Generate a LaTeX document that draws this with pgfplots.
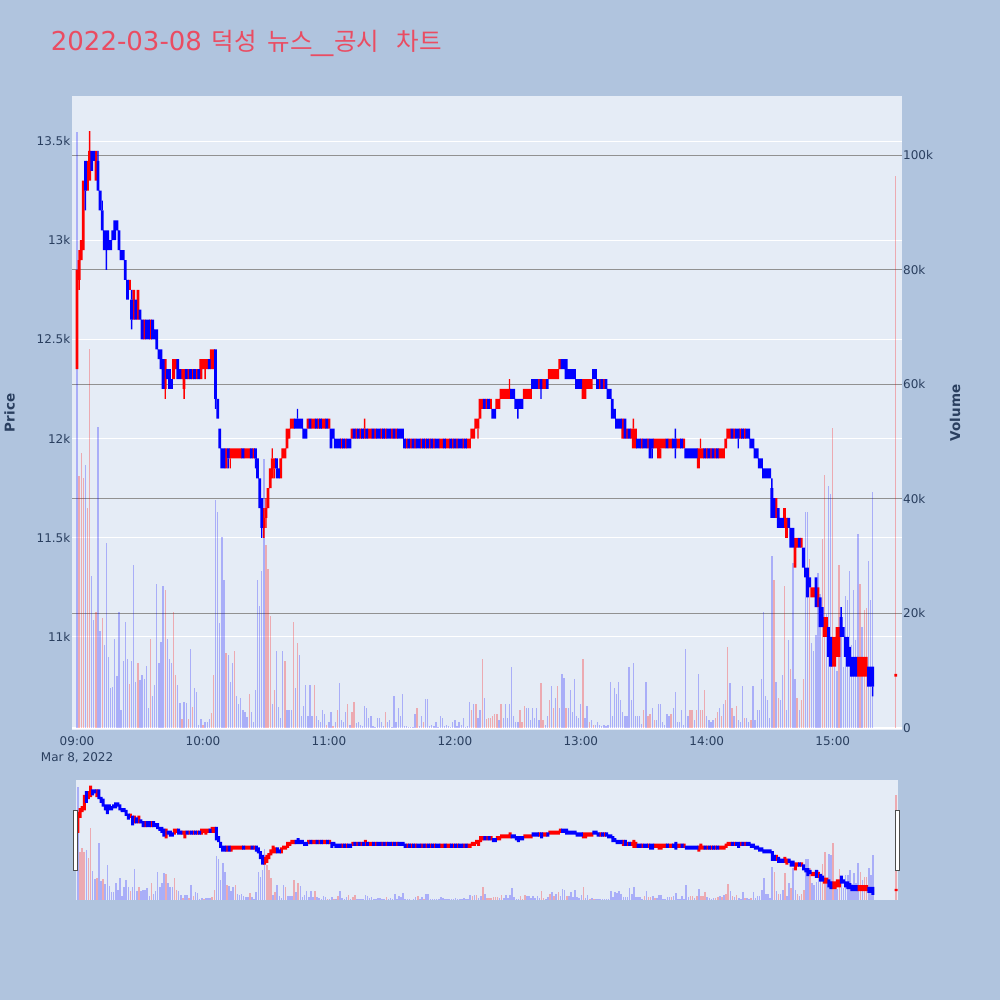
\documentclass[border=0pt]{standalone}
\usepackage{fontspec}
\setmainfont{DejaVu Sans}
\newfontfamily\kr{Noto Sans CJK KR}
\usepackage{graphicx}
\usepackage{pgfplots}
\usepackage{pgfplotstable}
\pgfplotsset{compat=1.18}
\definecolor{pagebg}{RGB}{176,196,222}
\definecolor{plotbg}{RGB}{229,236,246}
\definecolor{txt}{RGB}{42,63,95}
\definecolor{ttl}{RGB}{234,76,98}
\definecolor{cred}{RGB}{255,0,0}
\definecolor{cblue}{RGB}{0,0,255}
\definecolor{vgrid}{RGB}{145,145,145}

\pgfplotstableread{
t o h l c v vc
0 12350 12850 12350 12850 104000 0
1 12800 12950 12750 12900 44000 1
2 12900 13000 12900 13000 48000 1
3 12950 13300 12950 13300 43700 1
4 13400 13400 13150 13250 45900 0
5 13250 13400 13250 13400 38400 1
6 13300 13550 13300 13450 66100 1
7 13450 13450 13350 13350 26600 0
8 13450 13450 13400 13400 18800 0
9 13300 13450 13300 13450 20200 1
10 13400 13450 13250 13250 52600 0
11 13250 13250 13150 13150 16900 0
12 13150 13200 13050 13050 19200 1
13 13050 13050 12950 12950 14500 0
14 13050 13050 12850 12950 32300 0
15 13000 13050 12950 12950 12400 0
16 13000 13000 12950 12950 7000 0
17 13050 13050 13000 13000 7200 0
18 13100 13100 13000 13000 15500 0
19 13100 13100 13050 13050 9100 0
20 13050 13050 12950 12950 20200 0
21 12950 12950 12900 12900 3100 0
22 12950 12950 12900 12900 11700 0
23 12900 12900 12800 12800 18500 0
24 12800 12800 12700 12700 12000 0
25 12750 12800 12750 12800 7600 1
26 12700 12750 12550 12600 11700 0
27 12600 12750 12600 12750 28400 0
28 12700 12700 12600 12600 8000 0
29 12600 12750 12600 12750 11300 1
30 12650 12650 12600 12600 8300 0
31 12600 12600 12500 12500 9300 0
32 12500 12600 12500 12600 8600 0
33 12600 12600 12500 12500 10800 0
34 12600 12600 12500 12500 3500 0
35 12500 12600 12500 12600 15500 1
36 12600 12600 12500 12500 5500 0
37 12550 12550 12500 12500 7500 0
38 12550 12550 12450 12450 25100 0
39 12450 12450 12400 12400 11300 0
40 12450 12450 12350 12350 15000 0
41 12400 12400 12250 12250 24800 0
42 12250 12400 12200 12400 24000 1
43 12350 12350 12300 12300 15500 0
44 12350 12350 12250 12250 12000 0
45 12300 12300 12250 12250 11300 0
46 12300 12400 12300 12400 20200 1
47 12350 12400 12350 12400 9300 1
48 12400 12400 12300 12300 7500 0
49 12350 12350 12300 12300 4300 0
50 12300 12350 12300 12350 1500 1
51 12250 12350 12200 12350 4600 0
52 12350 12350 12300 12300 4300 0
53 12300 12350 12300 12350 1500 1
54 12350 12350 12300 12300 13800 0
55 12300 12350 12300 12350 3600 1
56 12350 12350 12300 12300 7000 0
57 12300 12350 12300 12350 6300 0
58 12350 12350 12300 12300 500 0
59 12300 12400 12300 12400 1600 0
60 12350 12400 12350 12400 500 1
61 12350 12400 12300 12400 1100 0
62 12350 12400 12350 12400 1100 0
63 12400 12400 12350 12350 1600 0
64 12350 12450 12350 12450 2700 1
65 12400 12450 12350 12450 9200 1
66 12450 12450 12150 12200 39800 0
67 12200 12200 12100 12100 37700 0
68 12050 12050 11950 11950 18400 0
69 11950 11950 11850 11850 33400 0
70 11950 11950 11850 11850 25900 0
71 11850 11950 11850 11950 13100 1
72 11950 11950 11850 11900 12750 0
73 11900 11950 11850 11950 8100 0
74 11900 11950 11900 11950 11300 0
75 11900 11950 11900 11950 13500 1
76 11900 11950 11900 11950 5600 0
77 11900 11950 11900 11950 4200 0
78 11900 11950 11900 11950 5300 0
79 11950 11950 11900 11900 3100 0
80 11900 11950 11900 11950 2800 0
81 11900 11950 11900 11950 2000 0
82 11900 11950 11900 11950 6000 1
83 11950 11950 11900 11900 2800 0
84 11900 11950 11900 11950 1000 0
85 11950 11950 11850 11900 6700 0
86 11900 11900 11800 11800 25900 0
87 11800 11800 11650 11650 21300 0
88 11700 11700 11500 11550 27400 0
89 11550 11650 11500 11600 46900 0
90 11600 11700 11550 11650 32000 1
91 11650 11750 11650 11750 27700 1
92 11750 11850 11750 11850 19500 1
93 11800 11950 11800 11900 4200 0
94 11850 11900 11800 11900 6700 1
95 11900 11900 11800 11850 13500 0
96 11850 11850 11800 11800 3700 0
97 11800 11900 11800 11900 1800 0
98 11900 11950 11900 11950 13500 0
99 11900 11950 11900 11950 11700 1
100 11950 12050 11950 12050 3200 0
101 12000 12050 12000 12050 3200 0
102 12050 12100 12050 12100 3200 0
103 12050 12100 12050 12100 18500 1
104 12100 12100 12050 12050 7000 0
105 12100 12150 12050 12050 14900 1
106 12100 12100 12050 12050 12750 0
107 12100 12100 12050 12050 2100 0
108 12050 12050 12000 12000 3900 0
109 12050 12050 12000 12000 7500 0
110 12050 12100 12050 12100 2100 0
111 12100 12100 12050 12050 7500 0
112 12050 12100 12050 12100 2100 0
113 12050 12100 12050 12100 7500 1
114 12100 12100 12050 12050 2100 0
115 12050 12100 12050 12100 1400 0
116 12100 12100 12050 12050 1000 0
117 12050 12100 12050 12100 3100 0
118 12050 12100 12050 12100 2400 0
119 12100 12100 12050 12050 600 1
120 12050 12100 12050 12100 1000 0
121 12050 12050 11950 11950 2800 0
122 12050 12050 12000 12000 300 1
123 12000 12000 11950 11950 1000 0
124 12000 12000 11950 11950 3100 1
125 12000 12000 11950 11950 7800 0
126 11950 12000 11950 12000 1400 0
127 12000 12000 11950 11950 1000 0
128 11950 12000 11950 12000 2800 0
129 12000 12000 11950 11950 4200 1
130 12000 12000 11950 11950 600 0
131 12000 12050 12000 12050 2800 1
132 12050 12050 12000 12000 4600 1
133 12000 12050 12000 12050 800 0
134 12050 12050 12000 12000 1000 0
135 12000 12050 12000 12050 600 0
136 12050 12050 12000 12000 400 0
137 12000 12100 12000 12050 3900 0
138 12050 12050 12000 12000 3500 0
139 12000 12050 12000 12050 1800 0
140 12000 12050 12000 12050 2100 0
141 12050 12050 12000 12000 300 0
142 12000 12050 12000 12050 200 0
143 12050 12050 12000 12000 1800 0
144 12050 12050 12000 12000 1800 0
145 12000 12050 12000 12050 1000 0
146 12050 12050 12000 12000 300 0
147 12000 12050 12000 12050 2800 1
148 12050 12050 12000 12000 1000 0
149 12050 12050 12000 12000 1400 0
150 12000 12050 12000 12050 200 0
151 12050 12050 12000 12000 5600 0
152 12000 12050 12000 12050 1000 0
153 12050 12050 12000 12000 3500 0
154 12050 12050 12000 12000 2100 0
155 12050 12050 12000 12000 6000 0
156 12000 12000 11950 11950 400 0
157 11950 12000 11950 12000 400 0
158 12000 12000 11950 11950 200 0
159 11950 12000 11950 12000 100 0
160 12000 12000 11950 11950 200 0
161 11950 12000 11950 12000 2400 0
162 12000 12000 11950 11950 3500 1
163 12000 12000 11950 11950 300 0
164 11950 12000 11950 12000 2100 0
165 12000 12000 11950 11950 1000 1
166 11950 12000 11950 12000 5100 0
167 12000 12000 11950 11950 5100 0
168 11950 12000 11950 12000 300 0
169 12000 12000 11950 11950 600 0
170 11950 12000 11950 12000 300 0
171 12000 12000 11950 11950 1000 0
172 12000 12000 11950 11950 200 0
173 11950 12000 11950 12000 2100 0
174 11950 12000 11950 12000 1800 0
175 12000 12000 11950 11950 300 0
176 11950 12000 11950 12000 600 0
177 11950 12000 11950 12000 400 0
178 12000 12000 11950 11950 200 0
179 11950 12000 11950 12000 1000 0
180 12000 12000 11950 11950 1400 0
181 11950 12000 11950 12000 300 0
182 12000 12000 11950 11950 1000 0
183 12000 12000 11950 11950 600 0
184 11950 12000 11950 12000 1800 0
185 12000 12000 11950 11950 200 0
186 11950 12000 11950 12000 400 0
187 11950 12000 11950 12000 4600 0
188 12000 12050 12000 12050 3200 1
189 12000 12050 12000 12050 4200 0
190 12050 12100 12050 12100 4200 1
191 12050 12100 12000 12100 1800 0
192 12100 12200 12100 12200 3200 0
193 12150 12200 12150 12200 12000 1
194 12200 12200 12150 12150 5300 0
195 12150 12200 12150 12200 1500 1
196 12200 12200 12150 12150 1800 1
197 12150 12200 12150 12200 1800 1
198 12150 12150 12100 12100 2100 1
199 12150 12150 12100 12100 2500 1
200 12150 12200 12150 12200 2500 1
201 12150 12200 12150 12200 1400 0
202 12200 12250 12200 12250 4200 1
203 12200 12250 12200 12250 1800 0
204 12200 12250 12200 12250 4200 0
205 12200 12250 12200 12250 1800 0
206 12200 12300 12200 12250 4200 0
207 12250 12250 12200 12200 10600 0
208 12250 12250 12200 12200 2100 0
209 12200 12200 12150 12150 1000 0
210 12200 12200 12100 12150 1000 0
211 12200 12200 12150 12150 3200 1
212 12200 12200 12150 12150 1000 1
213 12200 12250 12200 12250 3900 1
214 12200 12250 12200 12250 3500 0
215 12200 12250 12200 12250 3500 0
216 12200 12250 12200 12250 1400 0
217 12300 12300 12250 12250 3500 0
218 12300 12300 12250 12250 1800 0
219 12300 12300 12250 12250 3500 0
220 12250 12300 12250 12300 1400 0
221 12300 12300 12200 12250 7800 1
222 12250 12300 12250 12300 1400 1
223 12250 12300 12250 12300 600 0
224 12300 12300 12250 12250 2100 0
225 12300 12350 12300 12350 4900 1
226 12300 12350 12300 12350 7400 0
227 12300 12350 12300 12350 3500 1
228 12300 12350 12300 12350 5300 0
229 12300 12350 12300 12350 7400 1
230 12350 12400 12350 12400 3500 0
231 12400 12400 12350 12350 9500 0
232 12400 12400 12350 12350 8800 0
233 12400 12400 12300 12300 3500 1
234 12350 12350 12300 12300 3500 0
235 12350 12350 12300 12300 6700 0
236 12350 12350 12300 12300 2800 0
237 12350 12350 12300 12300 8500 0
238 12300 12300 12250 12250 2100 0
239 12300 12300 12250 12250 1800 0
240 12300 12300 12250 12250 4200 0
241 12200 12300 12200 12300 12000 1
242 12200 12300 12200 12300 1800 0
243 12250 12300 12250 12300 3900 0
244 12250 12300 12250 12300 1000 1
245 12250 12300 12250 12300 1400 0
246 12350 12350 12300 12300 600 1
247 12350 12350 12300 12300 600 0
248 12300 12300 12250 12250 1000 0
249 12250 12300 12250 12300 600 0
250 12300 12300 12250 12250 300 0
251 12250 12300 12250 12300 600 0
252 12300 12300 12250 12250 300 0
253 12250 12250 12200 12200 600 0
254 12250 12250 12200 12200 8100 0
255 12200 12200 12100 12100 2100 0
256 12150 12150 12100 12100 7000 0
257 12100 12100 12050 12050 6000 0
258 12100 12100 12050 12050 8100 0
259 12100 12100 12050 12050 4900 0
260 12000 12100 12000 12100 2800 0
261 12100 12100 12000 12000 2100 0
262 12000 12050 12000 12050 2100 0
263 12050 12050 12000 12000 10600 0
264 12000 12050 12000 12050 4900 0
265 11950 12100 11950 12050 11300 0
266 11950 12050 11950 12050 2100 0
267 12000 12000 11950 11950 2100 0
268 12000 12000 11950 11950 2100 0
269 11950 12000 11950 12000 700 0
270 12000 12000 11950 11950 3200 1
271 12000 12000 11950 11950 8100 0
272 11950 12000 11950 12000 2100 1
273 12000 12000 11900 11900 2500 1
274 12000 12000 11900 11950 3500 0
275 11950 12000 11950 12000 1400 1
276 11950 12000 11950 12000 1400 0
277 11900 12000 11900 12000 4200 0
278 11950 12000 11900 12000 4200 0
279 11950 12000 11950 12000 1000 0
280 11950 12000 11950 12000 600 0
281 12000 12000 11950 11950 2500 0
282 11950 12000 11950 12000 2100 0
283 11950 12000 11950 12000 2500 1
284 12000 12000 11950 11950 3500 0
285 12000 12050 11900 11950 6300 0
286 11950 12000 11950 12000 1000 0
287 11950 12000 11950 12000 1000 0
288 12000 12000 11950 11950 3200 0
289 11950 12000 11950 12000 600 0
290 11950 11950 11900 11900 13800 0
291 11950 11950 11900 11900 2100 0
292 11950 11950 11900 11900 3200 1
293 11950 11950 11900 11900 3200 1
294 11950 11950 11900 11900 1400 0
295 11950 11950 11900 11900 3200 1
296 11850 11950 11850 11950 9500 0
297 11900 12000 11900 11950 3200 1
298 11900 11950 11900 11950 3200 1
299 11950 11950 11900 11900 6700 1
300 11900 11950 11900 11950 2100 0
301 11950 11950 11900 11900 1400 0
302 11900 11950 11900 11950 1000 0
303 11950 11950 11900 11900 1400 0
304 11900 11950 11900 11950 1800 1
305 11950 11950 11900 11900 2800 1
306 11900 11950 11900 11950 3500 0
307 11900 11950 11900 11950 2100 1
308 11900 11950 11900 11950 4200 0
309 11950 12000 11950 12000 4900 1
310 12000 12050 12000 12050 14200 1
311 12000 12050 12000 12050 7800 0
312 12050 12050 12000 12000 3500 1
313 12000 12050 12000 12050 2100 0
314 12050 12050 12000 12000 3900 1
315 12050 12050 11950 12000 1400 0
316 12000 12050 12000 12050 1000 0
317 12050 12050 12000 12000 7400 0
318 12000 12050 12000 12050 1800 1
319 12050 12050 12000 12000 1800 0
320 12050 12050 12000 12000 1000 0
321 12000 12000 11950 11950 1400 1
322 12000 12000 11950 11950 7400 0
323 11950 11950 11900 11900 1400 0
324 11950 11950 11900 11900 3200 0
325 11900 11900 11850 11850 3200 0
326 11900 11900 11850 11850 8500 0
327 11850 11850 11800 11800 20200 0
328 11850 11850 11800 11800 5600 0
329 11850 11850 11800 11800 4900 0
330 11850 11850 11800 11800 1800 0
331 11750 11800 11600 11600 30000 0
332 11700 11700 11600 11600 25900 1
333 11600 11700 11600 11700 8100 0
334 11650 11650 11550 11550 5300 1
335 11600 11600 11550 11550 4900 0
336 11600 11600 11550 11550 9200 0
337 11550 11650 11550 11650 24800 1
338 11500 11600 11500 11600 3200 0
339 11600 11600 11550 11550 15300 0
340 11550 11550 11450 11450 10300 1
341 11550 11550 11450 11450 28800 0
342 11350 11500 11350 11500 8500 0
343 11450 11500 11450 11500 5300 1
344 11500 11500 11450 11450 3200 0
345 11450 11500 11450 11500 4900 1
346 11450 11450 11350 11350 8500 1
347 11350 11350 11300 11300 37700 0
348 11350 11350 11200 11200 37700 0
349 11300 11300 11250 11250 29500 1
350 11200 11250 11200 11250 14900 0
351 11200 11250 11200 11250 13500 0
352 11300 11300 11150 11150 16300 0
353 11150 11250 11150 11250 27000 0
354 11200 11200 11050 11050 23400 0
355 11150 11150 11050 11050 33000 1
356 11000 11100 11000 11100 44100 1
357 11000 11100 11000 11100 19900 0
358 11050 11050 10900 10900 42300 0
359 11000 11000 10850 10850 40900 0
360 10850 11000 10850 11000 52300 1
361 10850 11000 10850 11000 14900 0
362 10900 11050 10900 11050 9900 0
363 10900 11050 10900 11050 28400 1
364 11100 11150 11000 11000 16300 0
365 11050 11050 11000 11000 10600 0
366 11000 11000 10900 10900 23100 0
367 11000 11000 10850 10850 22400 0
368 10950 10950 10850 10850 27400 0
369 10900 10900 10800 10800 14500 0
370 10900 10900 10800 10800 24100 0
371 10900 10900 10800 10800 15400 0
372 10800 10900 10800 10900 33800 0
373 10800 10900 10800 10900 25200 1
374 10800 10900 10800 10900 17700 0
375 10800 10900 10800 10900 20600 1
376 10800 10900 10800 10900 20900 1
377 10850 10850 10750 10750 29100 0
378 10850 10850 10750 10750 22400 0
379 10850 10850 10700 10750 41200 0
390 10800 10800 10800 10800 96400 1
}\data

\pgfplotsset{
  lay/.style={scale only axis, anchor=south west, clip=true, scaled ticks=false,
    axis line style={draw=none}, major tick style={draw=none}, minor tick style={draw=none}},
  mainpos/.style={lay, at={(72pt,270pt)}, width=830pt, height=634pt, xmin=-2.4, xmax=393},
  slidepos/.style={lay, at={(76pt,100pt)}, width=822pt, height=120pt, xmin=-0.95, xmax=390.95},
  pricey/.style={ymin=10531, ymax=13727},
  voly/.style={ymin=-349, ymax=110300},
  redsel/.style={restrict expr to domain={\thisrow{c}-\thisrow{o}}{0:100000}},
  bluesel/.style={restrict expr to domain={\thisrow{c}-\thisrow{o}}{-100000:-1}},
  vred/.style={restrict expr to domain={\thisrow{vc}}{0.5:1.5}},
  vblue/.style={restrict expr to domain={\thisrow{vc}}{-0.5:0.5}},
}
% main candles of one colour, as stacked bars: #1 selector, #2 colour
\newcommand{\maincandles}[2]{%
\begin{axis}[mainpos, pricey, hide axis, ybar stacked]
  \addplot[draw=none, fill=none, #1, bar width=1pt] table[x=t, y=l]{\data};
  \addplot[draw=none, fill=#2, #1, bar width=1.4pt] table[x=t, y expr={min(\thisrow{o},\thisrow{c})-\thisrow{l}}]{\data};
  \addplot[draw=none, fill=#2, #1, bar width=2.8pt] table[x=t, y expr={max(abs(\thisrow{c}-\thisrow{o}),14)}]{\data};
  \addplot[draw=none, fill=#2, #1, bar width=1.4pt] table[x=t, y expr={\thisrow{h}-max(\thisrow{o},\thisrow{c})}]{\data};
\end{axis}}
\newcommand{\slidecandles}[2]{%
\begin{axis}[slidepos, pricey, hide axis, ybar stacked]
  \addplot[draw=none, fill=none, #1, bar width=1pt] table[x=t, y expr={\thisrow{l}-30}]{\data};
  \addplot[draw=none, fill=#2, #1, bar width=3pt] table[x=t, y expr={\thisrow{h}-\thisrow{l}+60}]{\data};
\end{axis}}
\newcommand{\volumes}[1]{%
  \addplot[ycomb, no markers, draw=cred, draw opacity=0.28, line width=#1, vred] table[x=t, y=v]{\data};
  \addplot[ycomb, no markers, draw=cblue, draw opacity=0.26, line width=#1, vblue] table[x=t, y=v]{\data};
}

\begin{document}
\begin{tikzpicture}
\useasboundingbox (0,0) rectangle (1000pt,1000pt);
\fill[pagebg] (0,0) rectangle (1000pt,1000pt);

% main price axis: background, white grid, left and bottom labels
\begin{axis}[mainpos, pricey,
  axis background/.style={fill=plotbg},
  ymajorgrids, grid style={white, line width=1pt},
  ytick={11000,11500,12000,12500,13000,13500},
  yticklabels={11k,11.5k,12k,12.5k,13k,13.5k},
  yticklabel pos=left,
  yticklabel style={anchor=east, inner sep=0pt, xshift=-1.5pt, text=txt, font=\fontsize{12}{14}\selectfont},
  xtick={0,60,120,180,240,300,360},
  xticklabels={{09:00\\Mar 8, 2022},10:00,11:00,12:00,13:00,14:00,15:00},
  xticklabel pos=bottom,
  xticklabel style={anchor=north, inner sep=0pt, yshift=-6pt, align=center, text=txt, font=\fontsize{12}{16}\selectfont},
]
\addplot[draw=none, forget plot] coordinates {(0,12000)};
\end{axis}

% volume axis
\begin{axis}[mainpos, voly,
  ymajorgrids, grid style={vgrid, line width=1pt},
  ytick={0,20000,40000,60000,80000,100000},
  yticklabels={0,20k,40k,60k,80k,100k},
  yticklabel pos=right,
  yticklabel style={anchor=west, inner sep=0pt, xshift=1pt, text=txt, font=\fontsize{12}{14}\selectfont},
  xtick=\empty,
]
\draw[white, line width=2pt] (axis cs:-3,0) -- (axis cs:400,0);
\volumes{1.3pt}
\end{axis}

% candles on top
\maincandles{redsel}{cred}
\maincandles{bluesel}{cblue}

% range slider
\begin{axis}[slidepos, voly, axis background/.style={fill=plotbg}, hide axis]
\volumes{1.6pt}
\end{axis}
\slidecandles{redsel}{cred}
\slidecandles{bluesel}{cblue}
\draw[fill=white, draw=black!70, line width=0.8pt] (73.5pt,129.5pt) rectangle (77.3pt,190pt);
\draw[fill=white, draw=black!70, line width=0.8pt] (895.5pt,129.5pt) rectangle (899.3pt,190pt);

% texts
\begin{scope}[every node/.style={anchor=base west, inner sep=0pt, text=ttl}]
\node[font=\fontsize{26}{30}\selectfont] at (50.7pt,949.3pt) {2022-03-08};
\node[font=\kr\fontsize{24.5}{30}\selectfont] at (211.5pt,949.3pt) {덕성};
\node[font=\kr\fontsize{24.5}{30}\selectfont] at (267.5pt,949.3pt) {뉴스};
\node[font=\fontsize{26}{30}\selectfont] at (311pt,949.3pt) {\scalebox{1.7}[1]{\_}};
\node[font=\kr\fontsize{24.5}{30}\selectfont] at (334pt,949.3pt) {공시};
\node[font=\kr\fontsize{24.5}{30}\selectfont] at (396.5pt,949.3pt) {차트};
\end{scope}
\node[rotate=90, inner sep=0pt, text=txt, font=\bfseries\fontsize{13.5}{16}\selectfont] at (9.5pt,587pt) {Price};
\node[rotate=90, inner sep=0pt, text=txt, font=\bfseries\fontsize{13.5}{16}\selectfont] at (955pt,587pt) {Volume};
\end{tikzpicture}
\end{document}
